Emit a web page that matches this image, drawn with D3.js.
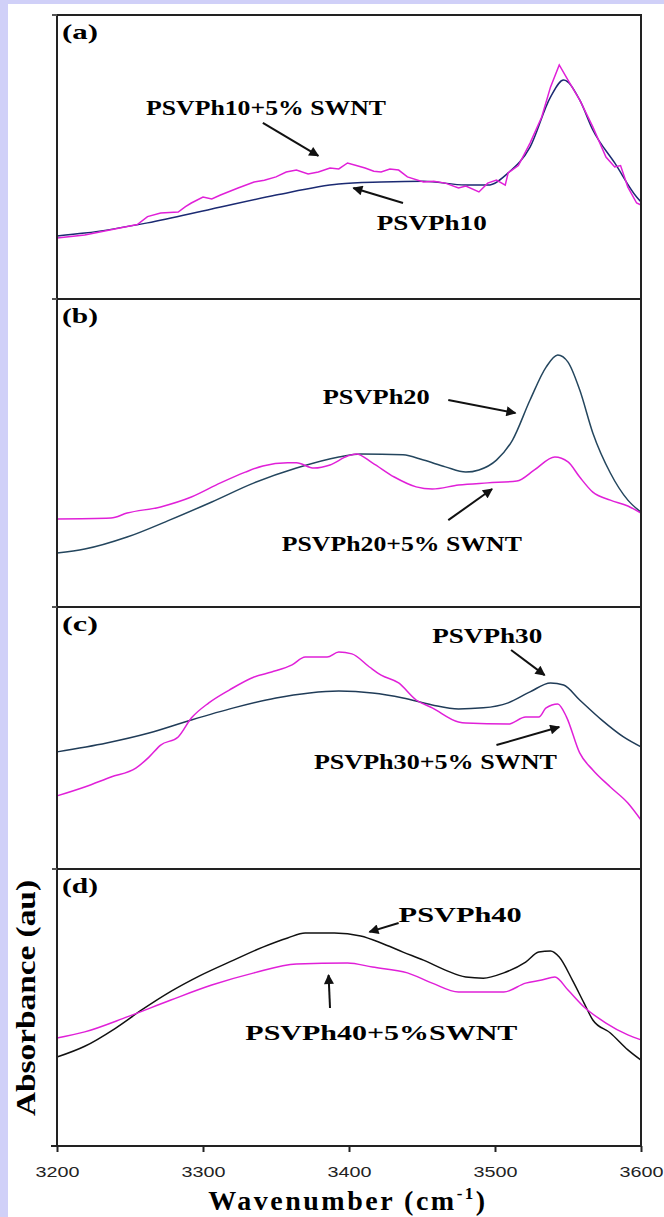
<!DOCTYPE html>
<html>
<head>
<meta charset="utf-8">
<script src="https://cdn.jsdelivr.net/npm/d3@7"></script>
<style>
  body { margin: 0; background: #fff; }
  svg { display: block; }
</style>
</head>
<body>
<script>
/* FTIR spectra, O-H stretching region, 4 stacked panels */

// [wavenumber (cm-1), absorbance (au, normalised per panel)]
var psvph10 = [[3200,0.222],[3219,0.232],[3262,0.268],[3306,0.317],[3350,0.366],[3393,0.405],[3422,0.412],
  [3451,0.415],[3480,0.401],[3495,0.401],[3509,0.444],[3524,0.535],[3538,0.711],[3547,0.771],[3558,0.701],
  [3567,0.595],[3582,0.479],[3597,0.359],[3600,0.342]];
var psvph10swnt = [[3200,0.215],[3219,0.225],[3243,0.250],[3255,0.262],[3262,0.290],[3271,0.303],[3283,0.306],
  [3288,0.325],[3292,0.338],[3300,0.359],[3306,0.352],[3312,0.366],[3324,0.391],[3335,0.412],[3342,0.418],
  [3350,0.430],[3357,0.447],[3364,0.454],[3372,0.440],[3379,0.447],[3387,0.461],[3393,0.458],[3399,0.479],
  [3405,0.470],[3411,0.461],[3417,0.450],[3422,0.447],[3428,0.458],[3434,0.454],[3440,0.430],[3451,0.412],
  [3458,0.415],[3466,0.408],[3475,0.391],[3480,0.398],[3489,0.377],[3495,0.408],[3501,0.419],[3507,0.401],
  [3509,0.444],[3516,0.470],[3524,0.549],[3532,0.641],[3538,0.746],[3544,0.824],[3550,0.771],[3558,0.701],
  [3567,0.606],[3576,0.500],[3582,0.465],[3586,0.470],[3591,0.394],[3597,0.338],[3600,0.331]];

var psvph20 = [[3200,0.175],[3219,0.188],[3248,0.227],[3277,0.282],[3306,0.341],[3335,0.403],[3364,0.451],
  [3393,0.487],[3408,0.497],[3437,0.494],[3451,0.477],[3466,0.455],[3480,0.438],[3489,0.445],[3501,0.477],
  [3512,0.542],[3524,0.672],[3535,0.779],[3543,0.818],[3550,0.795],[3558,0.705],[3567,0.565],[3579,0.435],
  [3591,0.347],[3600,0.308]];
var psvph20swnt = [[3200,0.286],[3237,0.289],[3248,0.305],[3271,0.325],[3292,0.357],[3312,0.403],[3329,0.438],
  [3341,0.458],[3358,0.468],[3364,0.468],[3376,0.451],[3387,0.461],[3399,0.490],[3405,0.497],[3416,0.468],
  [3431,0.422],[3446,0.390],[3457,0.383],[3475,0.396],[3495,0.403],[3515,0.409],[3527,0.445],[3541,0.487],
  [3550,0.471],[3558,0.422],[3567,0.373],[3579,0.347],[3591,0.328],[3600,0.305]];

var psvph30 = [[3200,0.447],[3234,0.481],[3263,0.519],[3292,0.569],[3321,0.615],[3350,0.653],[3373,0.672],
  [3393,0.679],[3416,0.672],[3437,0.653],[3457,0.626],[3475,0.611],[3492,0.615],[3509,0.634],[3524,0.676],
  [3538,0.710],[3547,0.702],[3558,0.645],[3573,0.569],[3588,0.504],[3600,0.466]];
var psvph30swnt = [[3200,0.279],[3219,0.313],[3237,0.351],[3254,0.385],[3263,0.427],[3271,0.473],[3283,0.504],
  [3292,0.576],[3304,0.634],[3318,0.683],[3335,0.733],[3347,0.752],[3361,0.779],[3370,0.809],[3385,0.809],
  [3393,0.828],[3402,0.821],[3414,0.771],[3422,0.740],[3434,0.710],[3446,0.645],[3457,0.615],[3475,0.561],
  [3480,0.557],[3509,0.553],[3521,0.580],[3530,0.580],[3535,0.615],[3543,0.630],[3549,0.580],[3558,0.443],
  [3567,0.378],[3579,0.313],[3591,0.252],[3600,0.187]];

var psvph40 = [[3200,0.321],[3219,0.360],[3240,0.425],[3258,0.491],[3278,0.558],[3298,0.615],[3321,0.671],
  [3341,0.718],[3358,0.751],[3370,0.769],[3390,0.769],[3408,0.758],[3422,0.733],[3437,0.700],[3451,0.671],
  [3466,0.635],[3480,0.610],[3492,0.606],[3506,0.625],[3521,0.664],[3530,0.700],[3538,0.704],[3544,0.682],
  [3553,0.599],[3561,0.516],[3567,0.455],[3579,0.408],[3591,0.347],[3600,0.310]];
var psvph40swnt = [[3200,0.390],[3219,0.412],[3248,0.466],[3278,0.527],[3306,0.581],[3335,0.625],[3364,0.657],
  [3399,0.661],[3416,0.646],[3440,0.625],[3457,0.588],[3475,0.556],[3506,0.556],[3521,0.588],[3532,0.599],
  [3541,0.610],[3550,0.563],[3561,0.502],[3576,0.444],[3591,0.401],[3600,0.383]];

var xTicks = [3200, 3300, 3400, 3500, 3600];
var panelLabels = ["(a)", "(b)", "(c)", "(d)"];
var pureNames = ["PSVPh10", "PSVPh20", "PSVPh30", "PSVPh40"];
var compNames = ["PSVPh10+5% SWNT", "PSVPh20+5% SWNT", "PSVPh30+5% SWNT", "PSVPh40+5%SWNT"];

var W = 664, H = 1217;
var left = 57, right = 641;

var panels = [
  { top: 15,  bottom: 299,  pure: psvph10, comp: psvph10swnt, pureColor: "#1b2a72", jagged: true },
  { top: 299, bottom: 607,  pure: psvph20, comp: psvph20swnt, pureColor: "#24465e" },
  { top: 607, bottom: 869,  pure: psvph30, comp: psvph30swnt, pureColor: "#203c58" },
  { top: 869, bottom: 1146, pure: psvph40, comp: psvph40swnt, pureColor: "#111111" }
];

// annotation placement in data units: text start [wn, au], arrow from -> to
var notes = [
  [ { t: 0, at: [3419, 0.268], len: 110, arrow: [[3437, 0.338], [3403, 0.391]] },
    { t: 1, at: [3261, 0.673], len: 240, arrow: [[3341, 0.620], [3379, 0.504]] } ],
  [ { t: 0, at: [3382, 0.682], len: 107, arrow: [[3468, 0.672], [3514, 0.630]] },
    { t: 1, at: [3354, 0.205], len: 240, arrow: [[3468, 0.282], [3498, 0.383]] } ],
  [ { t: 0, at: [3457, 0.889], len: 110, arrow: [[3511, 0.836], [3534, 0.740]] },
    { t: 1, at: [3376, 0.408], len: 243, arrow: [[3501, 0.473], [3544, 0.542]] } ],
  [ { t: 0, at: [3434, 0.834], len: 123, arrow: [[3434, 0.805], [3414, 0.773]] },
    { t: 1, at: [3329, 0.408], len: 272, arrow: [[3387, 0.498], [3386, 0.617]] } ]
];

var svg = d3.select("body").append("svg")
    .attr("width", W)
    .attr("height", H);

svg.append("rect").attr("width", W).attr("height", H).attr("fill", "#d0d0f8");
svg.append("rect").attr("x", 8).attr("y", 4).attr("width", W - 8).attr("height", H - 4).attr("fill", "#fff");

svg.append("defs").append("marker")
    .attr("id", "head")
    .attr("viewBox", "0 0 10 10")
    .attr("refX", 9).attr("refY", 5)
    .attr("markerUnits", "userSpaceOnUse")
    .attr("markerWidth", 12).attr("markerHeight", 10)
    .attr("orient", "auto")
  .append("path")
    .attr("d", "M0,0 L10,5 L0,10 z")
    .attr("fill", "#111");

var x = d3.scaleLinear().domain([3200, 3600]).range([left, right]);

var serif = "'Liberation Serif', 'Times New Roman', serif";

panels.forEach(function(p, i) {
  var y = d3.scaleLinear().domain([0, 1]).range([p.bottom, p.top]);
  var g = svg.append("g");

  var line = d3.line()
      .x(function(d) { return x(d[0]); })
      .y(function(d) { return y(d[1]); })
      .curve(d3.curveMonotoneX);
  var jag = d3.line()
      .x(function(d) { return x(d[0]); })
      .y(function(d) { return y(d[1]); });

  g.append("path")
      .attr("d", line(p.pure))
      .attr("fill", "none")
      .attr("stroke", p.pureColor)
      .attr("stroke-width", 1.5);

  g.append("path")
      .attr("d", (p.jagged ? jag : line)(p.comp))
      .attr("fill", "none")
      .attr("stroke", "#e020d8")
      .attr("stroke-width", 1.5);

  // frame
  g.append("rect")
      .attr("x", left).attr("y", p.top)
      .attr("width", right - left).attr("height", p.bottom - p.top)
      .attr("fill", "none")
      .attr("stroke", "#222")
      .attr("stroke-width", 2);

  // small corner ticks on the left axis
  g.append("line")
      .attr("x1", left - 5).attr("x2", left)
      .attr("y1", p.top).attr("y2", p.top)
      .attr("stroke", "#555").attr("stroke-width", 2);

  g.append("text")
      .attr("x", left + 5)
      .attr("y", p.top + 24)
      .attr("font-family", serif)
      .attr("font-weight", "bold")
      .attr("font-size", 22)
      .attr("textLength", 36)
      .attr("lengthAdjust", "spacingAndGlyphs")
      .text(panelLabels[i]);

  notes[i].forEach(function(n) {
    g.append("text")
        .attr("x", x(n.at[0]))
        .attr("y", y(n.at[1]))
        .attr("dy", "0.35em")
        .attr("font-family", serif)
        .attr("font-weight", "bold")
        .attr("font-size", 20)
        .attr("textLength", n.len)
        .attr("lengthAdjust", "spacingAndGlyphs")
        .text(n.t === 0 ? pureNames[i] : compNames[i]);

    g.append("line")
        .attr("x1", x(n.arrow[0][0])).attr("y1", y(n.arrow[0][1]))
        .attr("x2", x(n.arrow[1][0])).attr("y2", y(n.arrow[1][1]))
        .attr("stroke", "#111")
        .attr("stroke-width", 2)
        .attr("marker-end", "url(#head)");
  });
});

// bottom axis
var last = panels[panels.length - 1];
var ax = svg.append("g")
    .attr("transform", "translate(0," + last.bottom + ")")
    .call(d3.axisBottom(x).tickValues(xTicks).tickSize(6).tickPadding(14).tickFormat(d3.format("d")));
ax.select(".domain").remove();
ax.selectAll(".tick line").attr("stroke", "#222").attr("stroke-width", 2);
ax.selectAll(".tick text")
    .attr("fill", "#222")
    .attr("font-family", "'Liberation Sans', Arial, sans-serif")
    .attr("font-size", 15)
    .attr("textLength", 44)
    .attr("lengthAdjust", "spacingAndGlyphs");

svg.append("line")
    .attr("x1", left - 6).attr("x2", left)
    .attr("y1", last.bottom).attr("y2", last.bottom)
    .attr("stroke", "#222").attr("stroke-width", 2);

// axis titles
var xt = svg.append("text")
    .attr("x", 348)
    .attr("y", 1210)
    .attr("text-anchor", "middle")
    .attr("font-family", serif)
    .attr("font-weight", "bold")
    .attr("font-size", 28)
    .attr("letter-spacing", 2.5);
xt.append("tspan").text("Wavenumber (cm");
xt.append("tspan").attr("font-size", 17).attr("dy", -11).text("-1");
xt.append("tspan").attr("dy", 11).text(")");

svg.append("text")
    .attr("transform", "translate(35,998) rotate(-90)")
    .attr("text-anchor", "middle")
    .attr("font-family", serif)
    .attr("font-weight", "bold")
    .attr("font-size", 27)
    .attr("textLength", 236)
    .attr("lengthAdjust", "spacingAndGlyphs")
    .text("Absorbance (au)");
</script>
</body>
</html>
